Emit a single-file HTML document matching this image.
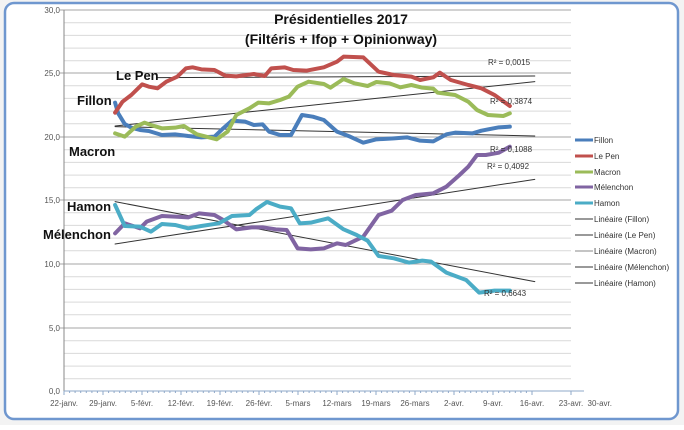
<!DOCTYPE html>
<html><head><meta charset="utf-8"><style>
body{margin:0;width:684px;height:425px;background:#fff;overflow:hidden;font-family:"Liberation Sans",sans-serif}
</style></head><body>
<svg width="684" height="425" viewBox="0 0 684 425" xmlns="http://www.w3.org/2000/svg" font-family="Liberation Sans, sans-serif">
<rect x="0" y="0" width="684" height="425" fill="#f3f3f3"/>
<rect x="5" y="3" width="673" height="416" rx="9" fill="#fff" stroke="#6f97cf" stroke-width="2.5"/>
<g stroke="#d9d9d9" stroke-width="1">
<line x1="64" x2="571" y1="22.7" y2="22.7"/><line x1="64" x2="571" y1="35.4" y2="35.4"/><line x1="64" x2="571" y1="48.1" y2="48.1"/><line x1="64" x2="571" y1="60.8" y2="60.8"/>
<line x1="64" x2="571" y1="85.7" y2="85.7"/><line x1="64" x2="571" y1="98.4" y2="98.4"/><line x1="64" x2="571" y1="111.1" y2="111.1"/><line x1="64" x2="571" y1="123.8" y2="123.8"/>
<line x1="64" x2="571" y1="149.7" y2="149.7"/><line x1="64" x2="571" y1="162.4" y2="162.4"/><line x1="64" x2="571" y1="175.1" y2="175.1"/><line x1="64" x2="571" y1="187.8" y2="187.8"/>
<line x1="64" x2="571" y1="212.7" y2="212.7"/><line x1="64" x2="571" y1="225.4" y2="225.4"/><line x1="64" x2="571" y1="238.1" y2="238.1"/><line x1="64" x2="571" y1="250.8" y2="250.8"/>
<line x1="64" x2="571" y1="276.7" y2="276.7"/><line x1="64" x2="571" y1="289.4" y2="289.4"/><line x1="64" x2="571" y1="302.1" y2="302.1"/><line x1="64" x2="571" y1="314.8" y2="314.8"/>
<line x1="64" x2="571" y1="340.7" y2="340.7"/><line x1="64" x2="571" y1="353.4" y2="353.4"/><line x1="64" x2="571" y1="366.1" y2="366.1"/><line x1="64" x2="571" y1="378.8" y2="378.8"/>
</g>
<g stroke="#a6a6a6" stroke-width="1">
<line x1="60" x2="571" y1="10" y2="10"/><line x1="60" x2="571" y1="73" y2="73"/><line x1="60" x2="571" y1="137" y2="137"/><line x1="60" x2="571" y1="200" y2="200"/><line x1="60" x2="571" y1="264" y2="264"/><line x1="60" x2="571" y1="328" y2="328"/>
</g>
<line x1="64" x2="64" y1="10" y2="391" stroke="#888"/>
<line x1="64" x2="584" y1="391" y2="391" stroke="#8fa8c8"/>
<g stroke="#8fa8c8" stroke-width="1" id="ticks"></g>
<g font-size="8" fill="#555" text-anchor="end">
<text x="60" y="13">30,0</text><text x="60" y="76">25,0</text><text x="60" y="140">20,0</text><text x="60" y="203">15,0</text><text x="60" y="267">10,0</text><text x="60" y="331">5,0</text><text x="60" y="394">0,0</text>
</g>
<g font-size="8" fill="#555" text-anchor="middle">
<text x="64" y="406">22-janv.</text><text x="103" y="406">29-janv.</text><text x="142" y="406">5-févr.</text><text x="181" y="406">12-févr.</text><text x="220" y="406">19-févr.</text><text x="259" y="406">26-févr.</text><text x="298" y="406">5-mars</text><text x="337" y="406">12-mars</text><text x="376" y="406">19-mars</text><text x="415" y="406">26-mars</text><text x="454" y="406">2-avr.</text><text x="493" y="406">9-avr.</text><text x="532" y="406">16-avr.</text><text x="571" y="406">23-avr.</text>
</g>
<text x="612" y="406" font-size="8" fill="#555" text-anchor="end">30-avr.</text>
<g transform="scale(0.43764,0.33333)" fill="none" stroke-linejoin="round" stroke-linecap="round">
<g stroke="#333" stroke-width="1" vector-effect="non-scaling-stroke">
<line x1="263" y1="380" x2="1222" y2="408" vector-effect="non-scaling-stroke"/>
<line x1="360" y1="233" x2="1222" y2="228" vector-effect="non-scaling-stroke"/>
<line x1="263" y1="378" x2="1222" y2="245" vector-effect="non-scaling-stroke"/>
<line x1="263" y1="732" x2="1222" y2="538" vector-effect="non-scaling-stroke"/>
<line x1="263" y1="605" x2="1222" y2="845" vector-effect="non-scaling-stroke"/>
</g>
<polyline vector-effect="non-scaling-stroke" stroke="#4a7ebb" stroke-width="4" points="263,308 270,340 285,372 300,383 320,390 340,393 370,405 400,403 430,408 460,412 490,410 510,385 530,362 560,365 580,375 600,373 615,395 640,405 665,405 690,345 715,350 740,360 770,395 800,410 830,428 860,418 900,415 930,412 960,422 990,424 1020,403 1040,398 1080,400 1100,392 1140,382 1165,380"/>
<polyline vector-effect="non-scaling-stroke" stroke="#c0504d" stroke-width="4" points="263,338 280,305 300,285 325,253 340,260 360,265 380,245 405,230 425,205 440,202 460,208 490,210 515,227 540,229 580,222 605,228 620,205 650,202 670,210 700,212 740,202 770,185 785,170 830,172 865,215 900,225 940,230 960,240 990,232 1005,218 1030,240 1070,255 1100,265 1130,285 1165,318"/>
<polyline vector-effect="non-scaling-stroke" stroke="#9bbb59" stroke-width="4" points="263,400 285,410 310,380 330,368 345,375 370,385 400,383 420,378 450,403 495,418 520,395 540,345 570,325 590,308 615,310 640,300 660,290 680,260 705,245 740,252 755,263 785,237 810,250 840,258 860,246 890,250 915,262 940,255 965,263 990,266 1000,278 1040,285 1070,305 1090,330 1115,345 1150,348 1165,340"/>
<polyline vector-effect="non-scaling-stroke" stroke="#8064a2" stroke-width="4" points="263,700 285,670 320,685 335,665 370,648 400,650 430,652 455,640 490,645 510,660 540,688 575,682 600,682 630,688 655,690 680,745 710,748 740,745 770,730 790,735 830,710 865,645 895,632 920,600 950,585 990,580 1020,560 1050,525 1070,500 1090,465 1110,465 1140,458 1165,440"/>
<polyline vector-effect="non-scaling-stroke" stroke="#4bacc6" stroke-width="4" points="263,615 285,678 320,680 345,695 370,672 400,675 430,685 460,678 500,670 530,648 570,645 585,628 610,606 640,620 665,625 685,670 710,668 750,655 785,688 815,705 840,722 865,768 900,775 935,788 965,782 985,785 1020,818 1065,840 1095,878 1130,872 1165,872"/>
</g>
<g font-size="8" fill="#333">
<text x="488" y="65">R² = 0,0015</text><text x="490" y="104">R² = 0,3874</text><text x="490" y="152">R² = 0,1088</text><text x="487" y="169">R² = 0,4092</text><text x="484" y="296">R² = 0,6643</text>
</g>
<g font-size="13" font-weight="bold" fill="#111">
<text x="116" y="80">Le Pen</text><text x="77" y="105">Fillon</text><text x="69" y="156">Macron</text><text x="67" y="211">Hamon</text><text x="43" y="239">Mélenchon</text>
</g>
<g font-size="14" font-weight="bold" fill="#111" text-anchor="middle">
<text x="341" y="24">Présidentielles 2017</text><text x="341" y="44">(Filtéris + Ifop + Opinionway)</text>
</g>
<g font-size="8" fill="#333">
<line x1="575" x2="593" y1="140" y2="140" stroke="#4a7ebb" stroke-width="3"/><text x="594" y="143">Fillon</text>
<line x1="575" x2="593" y1="156" y2="156" stroke="#c0504d" stroke-width="3"/><text x="594" y="159">Le Pen</text>
<line x1="575" x2="593" y1="172" y2="172" stroke="#9bbb59" stroke-width="3"/><text x="594" y="175">Macron</text>
<line x1="575" x2="593" y1="187" y2="187" stroke="#8064a2" stroke-width="3"/><text x="594" y="190">Mélenchon</text>
<line x1="575" x2="593" y1="203" y2="203" stroke="#4bacc6" stroke-width="3"/><text x="594" y="206">Hamon</text>
<line x1="575" x2="593" y1="219" y2="219" stroke="#333"/><text x="594" y="222">Linéaire (Fillon)</text>
<line x1="575" x2="593" y1="235" y2="235" stroke="#333"/><text x="594" y="238">Linéaire (Le Pen)</text>
<line x1="575" x2="593" y1="251" y2="251" stroke="#888"/><text x="594" y="254">Linéaire (Macron)</text>
<line x1="575" x2="593" y1="267" y2="267" stroke="#333"/><text x="594" y="270">Linéaire (Mélenchon)</text>
<line x1="575" x2="593" y1="283" y2="283" stroke="#333"/><text x="594" y="286">Linéaire (Hamon)</text>
</g>
<path stroke="#8fa8c8" d="M64 391v4M69.6 391v2M75.1 391v2M80.7 391v2M86.3 391v2M91.9 391v2M97.4 391v2M103 391v4M108.6 391v2M114.1 391v2M119.7 391v2M125.3 391v2M130.9 391v2M136.4 391v2M142 391v4M147.6 391v2M153.1 391v2M158.7 391v2M164.3 391v2M169.9 391v2M175.4 391v2M181 391v4M186.6 391v2M192.1 391v2M197.7 391v2M203.3 391v2M208.9 391v2M214.4 391v2M220 391v4M225.6 391v2M231.1 391v2M236.7 391v2M242.3 391v2M247.9 391v2M253.4 391v2M259 391v4M264.6 391v2M270.1 391v2M275.7 391v2M281.3 391v2M286.9 391v2M292.4 391v2M298 391v4M303.6 391v2M309.1 391v2M314.7 391v2M320.3 391v2M325.9 391v2M331.4 391v2M337 391v4M342.6 391v2M348.1 391v2M353.7 391v2M359.3 391v2M364.9 391v2M370.4 391v2M376 391v4M381.6 391v2M387.1 391v2M392.7 391v2M398.3 391v2M403.9 391v2M409.4 391v2M415 391v4M420.6 391v2M426.1 391v2M431.7 391v2M437.3 391v2M442.9 391v2M448.4 391v2M454 391v4M459.6 391v2M465.1 391v2M470.7 391v2M476.3 391v2M481.9 391v2M487.4 391v2M493 391v4M498.6 391v2M504.1 391v2M509.7 391v2M515.3 391v2M520.9 391v2M526.4 391v2M532 391v4M571 391v4"/>
</svg>
</body></html>
